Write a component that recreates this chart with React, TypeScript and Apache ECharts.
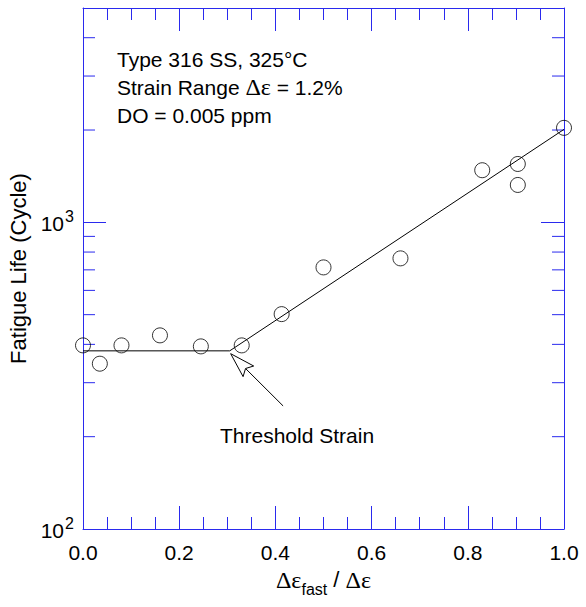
import React, { useEffect, useRef } from "react";
import * as echarts from "echarts";

// ---- data ----
const strainRatio = [0.0, 0.035, 0.08, 0.16, 0.245, 0.33, 0.413, 0.5, 0.66, 0.83, 0.904, 0.904, 1.0];
const fatigueLife = [397, 346, 397, 428, 394, 397, 502, 713, 763, 1479, 1550, 1324, 2033];
const fitRatio = [0, 0.305, 1.0];
const fitLife = [381, 381, 2010];
const arrowTip = [0.307, 373];
const arrowTail = [0.416, 252];
const yMajorTicks = [100, 1000];
const yMinorTicks = [200, 300, 400, 500, 600, 700, 800, 900, 2000, 3000, 4000];
const noteLines = ["Type 316 SS, 325°C", "Strain Range {g|Δε} = 1.2%", "DO = 0.005 ppm"];
const arrowLabel = "Threshold Strain";
const yAxisTitle = "Fatigue Life (Cycle)";

const BLUE = "#2a2aee";
const FONT = "Liberation Sans";
const SERIF = "Liberation Serif";

export default function App() {
  const ref = useRef<HTMLDivElement>(null);
  useEffect(() => {
    if (!ref.current) return;
    const chart = echarts.init(ref.current, undefined, { renderer: "svg" });
    const axisLine = { show: true, onZero: false, lineStyle: { color: BLUE, width: 1 } };
    const tickStyle = { color: BLUE, width: 1 };
    const xAxisBase = {
      type: "value" as const,
      min: 0,
      max: 1,
      interval: 0.2,
      axisLine,
      axisTick: { show: true, inside: true, length: 23, lineStyle: tickStyle },
      minorTick: { show: true, splitNumber: 4, length: 12, lineStyle: tickStyle },
      splitLine: { show: false },
      minorSplitLine: { show: false },
    };
    const yAxisBase = {
      type: "log" as const,
      logBase: 10,
      min: 100,
      max: 5000,
      axisLine,
      axisTick: { show: true, inside: true, length: 23, lineStyle: tickStyle },
      axisLabel: { show: false },
      splitLine: { show: false },
    };
    chart.setOption({
      animation: false,
      backgroundColor: "#fff",
      grid: { left: 83, top: 8, width: 481, height: 521, containLabel: false, outerBoundsMode: "none" },
      xAxis: [
        {
          ...xAxisBase,
          position: "bottom",
          axisLabel: {
            formatter: (v: number) => v.toFixed(1),
            fontSize: 21,
            fontFamily: FONT,
            color: "#000",
            margin: 13,
          },
          name: "{a|Δε}{sub|fast}{c| / }{a|Δε}",
          nameLocation: "middle",
          nameGap: 28,
          nameTextStyle: {
            fontSize: 22,
            rich: {
              a: { fontFamily: SERIF, fontSize: 24, color: "#000", lineHeight: 36, verticalAlign: "middle" },
              c: { fontFamily: FONT, fontSize: 22, color: "#000", lineHeight: 36, verticalAlign: "middle" },
              sub: { fontFamily: FONT, fontSize: 16, color: "#000", lineHeight: 16, verticalAlign: "bottom" },
            },
          },
        },
        { ...xAxisBase, position: "top", axisLabel: { show: false } },
      ],
      yAxis: [
        {
          ...yAxisBase,
          position: "left",
          name: yAxisTitle,
          nameLocation: "middle",
          nameGap: 54,
          nameTextStyle: { fontSize: 22, fontFamily: FONT, color: "#000" },
        },
        { ...yAxisBase, position: "right" },
      ],
      graphic: [
        {
          type: "text",
          left: 117,
          top: 45,
          style: {
            text: noteLines.join("\n"),
            fill: "#000",
            fontSize: 21,
            fontFamily: FONT,
            lineHeight: 28,
            rich: {
              g: { fontFamily: SERIF, fontSize: 24, lineHeight: 28, fill: "#000" },
            },
          },
        },
        {
          type: "text",
          left: 220,
          top: 425,
          style: { text: arrowLabel, fill: "#000", fontSize: 21, fontFamily: FONT },
        },
      ],
      series: [
        {
          type: "line",
          data: fitRatio.map((x, i) => [x, fitLife[i]]),
          showSymbol: false,
          symbol: "none",
          lineStyle: { color: "#000", width: 1 },
          clip: false,
          z: 3,
        },
        {
          type: "scatter",
          data: strainRatio.map((x, i) => [x, fatigueLife[i]]),
          symbol: "circle",
          symbolSize: 15,
          itemStyle: { color: "rgba(0,0,0,0)", borderColor: "#000", borderWidth: 1 },
          clip: false,
          z: 4,
        },
        {
          // minor ticks of the log axis, left and right
          type: "custom",
          silent: true,
          clip: false,
          data: yMinorTicks.map((v) => [0, v]),
          encode: { x: 0, y: 1 },
          renderItem: (_p: any, api: any) => {
            const v = api.value(1);
            const l = api.coord([0, v]);
            const r = api.coord([1, v]);
            return {
              type: "group",
              children: [
                { type: "line", shape: { x1: l[0], y1: l[1], x2: l[0] + 12, y2: l[1] }, style: { stroke: BLUE, lineWidth: 1 } },
                { type: "line", shape: { x1: r[0] - 12, y1: r[1], x2: r[0], y2: r[1] }, style: { stroke: BLUE, lineWidth: 1 } },
              ],
            };
          },
          z: 2,
        },
        {
          // 10^n tick labels of the log axis
          type: "custom",
          silent: true,
          clip: false,
          data: yMajorTicks.map((v) => [0, v]),
          encode: { x: 0, y: 1 },
          renderItem: (_p: any, api: any) => {
            const v = api.value(1);
            const e = Math.round(Math.log10(v));
            const p = api.coord([0, v]);
            return {
              type: "group",
              children: [
                {
                  type: "text",
                  x: p[0] - 19,
                  y: p[1] + 1,
                  style: { text: "10", fontSize: 21, fontFamily: FONT, fill: "#000", align: "right", verticalAlign: "middle" },
                },
                {
                  type: "text",
                  x: p[0] - 18,
                  y: p[1] - 6,
                  style: { text: String(e), fontSize: 16, fontFamily: FONT, fill: "#000", align: "left", verticalAlign: "middle" },
                },
              ],
            };
          },
          z: 2,
        },
        {
          type: "custom",
          silent: true,
          clip: false,
          data: [[arrowTip[0], arrowTip[1], arrowTail[0], arrowTail[1]]],
          encode: { x: [0, 2], y: [1, 3] },
          renderItem: (_p: any, api: any) => {
            const tip = api.coord([api.value(0), api.value(1)]);
            const tail = api.coord([api.value(2), api.value(3)]);
            const dx = tail[0] - tip[0];
            const dy = tail[1] - tip[1];
            const len = Math.hypot(dx, dy);
            const ux = dx / len, uy = dy / len;
            const nx = -uy, ny = ux;
            const L = 25, W = 7.5, N = 21;
            const p1 = [tip[0] + L * ux + W * nx, tip[1] + L * uy + W * ny];
            const p2 = [tip[0] + N * ux, tip[1] + N * uy];
            const p3 = [tip[0] + L * ux - W * nx, tip[1] + L * uy - W * ny];
            return {
              type: "group",
              children: [
                { type: "line", shape: { x1: p2[0], y1: p2[1], x2: tail[0], y2: tail[1] }, style: { stroke: "#000", lineWidth: 1 } },
                { type: "polygon", shape: { points: [tip, p1, p2, p3] }, style: { fill: "#fff", stroke: "#000", lineWidth: 1 } },
              ],
            };
          },
          z: 5,
        },
      ],
    });
    return () => chart.dispose();
  }, []);
  return (
    <div
      ref={ref}
      style={{ position: "fixed", left: 0, top: 0, width: 586, height: 607, background: "#fff" }}
    />
  );
}
